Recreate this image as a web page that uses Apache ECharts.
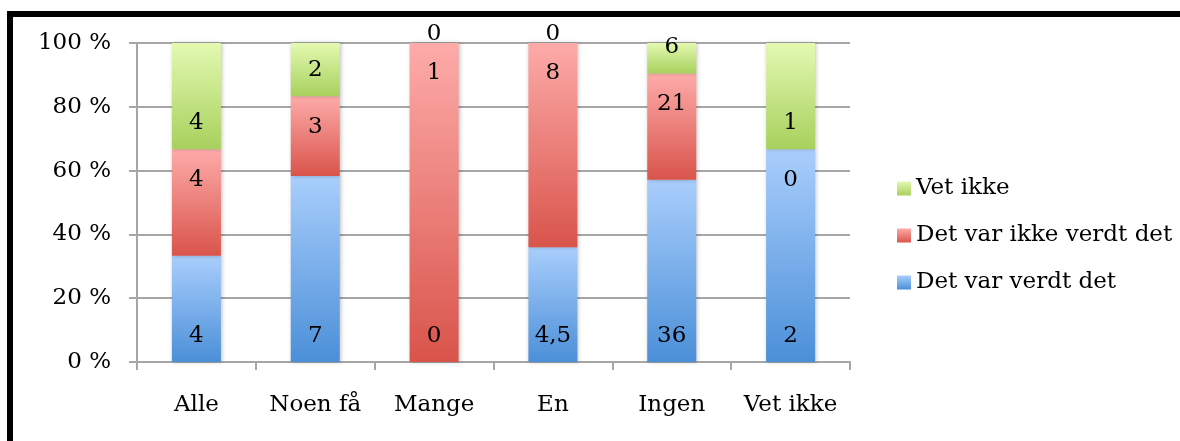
<!DOCTYPE html>
<html>
<head>
<meta charset="utf-8">
<script src="https://cdn.jsdelivr.net/npm/echarts@6/dist/echarts.min.js"></script>
<style>
    html, body { margin: 0; padding: 0; background: #fff; }
    #chart { width: 1180px; height: 441px; }
</style>
</head>
<body>
<div id="chart"></div>
<script>
var categories = ['Alle', 'Noen få', 'Mange', 'En', 'Ingen', 'Vet ikke'];
var verdt = [4, 7, 0, 4.5, 36, 2];        // Det var verdt det
var ikkeVerdt = [4, 3, 1, 8, 21, 0];      // Det var ikke verdt det
var vetIkke = [4, 2, 0, 0, 6, 1];         // Vet ikke
var yTicks = [0, 20, 40, 60, 80, 100];

var font = 'DejaVu Serif';
var fontSize = 23;
var gray = '#a6a6a6';

var totals = categories.map(function (c, i) {
    return verdt[i] + ikkeVerdt[i] + vetIkke[i];
});

function grad(top, bottom) {
    return new echarts.graphic.LinearGradient(0, 0, 0, 1, [
        {offset: 0, color: top},
        {offset: 1, color: bottom}
    ]);
}

function makeSeries(name, raw, top, bottom, pos, dist, zeroLabel) {
    return {
        name: name,
        type: 'bar',
        stack: 'total',
        barWidth: 49,
        itemStyle: {
            color: grad(top, bottom),
            shadowColor: 'rgba(0,0,0,0.25)',
            shadowBlur: 4,
            shadowOffsetX: 1
        },
        label: {
            show: true,
            position: pos,
            distance: dist,
            color: '#000',
            fontFamily: font,
            fontSize: fontSize,
            formatter: function (p) {
                return String(raw[p.dataIndex]).replace('.', ',');
            }
        },
        data: raw.map(function (v, i) {
            var item = {value: v / totals[i] * 100};
            if (v === 0 && zeroLabel) {
                item.label = zeroLabel;
            }
            return item;
        })
    };
}

var myChart = echarts.init(document.getElementById('chart'));
var option = {
    animation: false,
    graphic: [{
        type: 'rect',
        shape: {x: 10, y: 14, width: 1300, height: 600},
        style: {fill: 'none', stroke: '#000', lineWidth: 6},
        z: 100
    }],
    grid: {left: 137, right: 330, top: 43, bottom: 79},
    legend: {
        orient: 'vertical',
        left: 892,
        top: 172,
        itemWidth: 14,
        itemHeight: 14,
        itemGap: 24,
        icon: 'rect',
        data: ['Vet ikke', 'Det var ikke verdt det', 'Det var verdt det'],
        textStyle: {fontFamily: font, fontSize: fontSize, color: '#000'}
    },
    xAxis: {
        type: 'category',
        data: categories,
        axisLine: {lineStyle: {color: gray, width: 2}},
        axisTick: {show: true, interval: 0, length: 8, lineStyle: {color: gray, width: 2}},
        axisLabel: {interval: 0, margin: 32, color: '#000', fontFamily: font, fontSize: fontSize}
    },
    yAxis: {
        type: 'value',
        min: yTicks[0],
        max: yTicks[yTicks.length - 1],
        interval: 20,
        axisLine: {show: true, lineStyle: {color: gray, width: 2}},
        axisTick: {show: true, length: 8, lineStyle: {color: gray, width: 2}},
        splitLine: {lineStyle: {color: gray, width: 2}},
        axisLabel: {
            margin: 26,
            color: '#000',
            fontFamily: font,
            fontSize: fontSize,
            formatter: '{value} %'
        }
    },
    series: [
        makeSeries('Det var verdt det', verdt, '#a9cefc', '#4b8fd8', 'insideBottom', 14),
        makeSeries('Det var ikke verdt det', ikkeVerdt, '#fdaba9', '#d9544b', 'insideTop', 19),
        makeSeries('Vet ikke', vetIkke, '#e3f9b1', '#a8d05d', 'insideBottom', 15,
            {position: 'top', distance: -3})
    ]
};
myChart.setOption(option);
</script>
</body>
</html>
